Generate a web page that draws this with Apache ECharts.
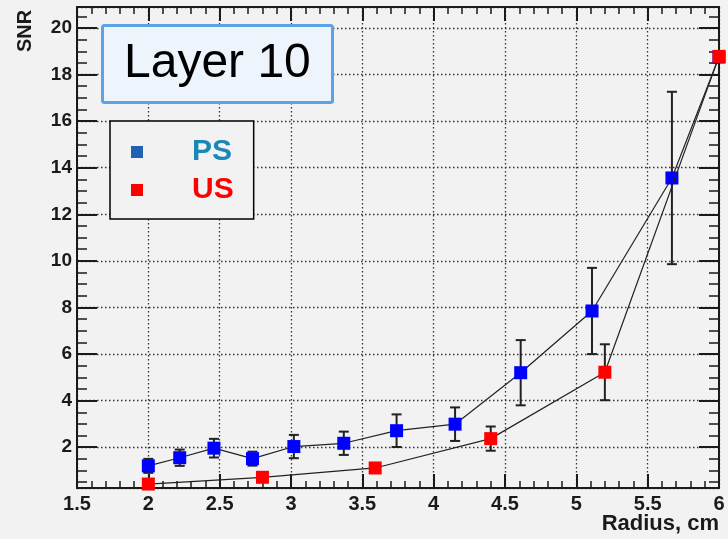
<!DOCTYPE html>
<html>
<head>
<meta charset="utf-8">
<script src="https://cdn.jsdelivr.net/npm/echarts@6/dist/echarts.min.js"></script>
<style>
html, body { margin: 0; padding: 0; background: #f2f2f2; }
#chart { width: 728px; height: 539px; }
</style>
</head>
<body>
<div id="chart"></div>
<script>
// PS points (last one sits under the red US point)
const psX = [2.0, 2.22, 2.46, 2.73, 3.02, 3.37, 3.74, 4.15, 4.61, 5.11, 5.67, 6.0]
const psY = [1.2, 1.55, 1.96, 1.51, 2.03, 2.17, 2.71, 2.99, 5.2, 7.85, 13.56, 18.75]
const psErr = [0.3, 0.35, 0.4, 0.3, 0.5, 0.5, 0.7, 0.72, 1.4, 1.85, 3.7, 0]

const usX = [2.0, 2.8, 3.59, 4.4, 5.2, 6.0]
const usY = [0.42, 0.71, 1.11, 2.37, 5.22, 18.78]
const usErr = [0, 0, 0, 0.52, 1.2, 0]

const xRange = [1.5, 6]
const yRange = [0.25, 20.9]

const FONT = '"Liberation Sans", Arial, sans-serif'
const INK = '#1a1a1a'

const chart = echarts.init(document.getElementById('chart'))

const pairs = (xs, ys) => xs.map((x, i) => [x, ys[i]])
const errBars = (xs, ys, es) => xs.map((x, i) => [x, ys[i] - es[i], ys[i] + es[i]])

const renderErr = (params, api) => {
  const x = api.value(0)
  const lo = api.value(1)
  const hi = api.value(2)
  if (hi - lo <= 0) return null
  const top = api.coord([x, hi])
  const bot = api.coord([x, lo])
  const cap = 5
  const style = { stroke: '#222', lineWidth: 2 }
  return {
    type: 'group',
    children: [
      { type: 'line', shape: { x1: top[0], y1: top[1], x2: bot[0], y2: bot[1] }, style },
      { type: 'line', shape: { x1: top[0] - cap, y1: top[1], x2: top[0] + cap, y2: top[1] }, style },
      { type: 'line', shape: { x1: bot[0] - cap, y1: bot[1], x2: bot[0] + cap, y2: bot[1] }, style }
    ]
  }
}

const xCommon = {
  type: 'value',
  min: xRange[0],
  max: xRange[1],
  interval: 0.5,
  axisLine: { show: true, onZero: false, lineStyle: { color: INK, width: 2 } },
  axisTick: { show: true, inside: true, length: 14, lineStyle: { color: INK, width: 2 } },
  minorTick: { show: true, splitNumber: 5, length: 7, lineStyle: { color: INK, width: 1.5 } }
}

const yCommon = {
  type: 'value',
  min: yRange[0],
  max: yRange[1],
  splitNumber: 10,
  minInterval: 2,
  maxInterval: 2,
  axisLine: { show: true, onZero: false, lineStyle: { color: INK, width: 2 } },
  axisTick: { show: true, inside: true, length: 20, lineStyle: { color: INK, width: 2 } },
  minorTick: { show: true, splitNumber: 4, length: 10, lineStyle: { color: INK, width: 1.5 } }
}

const dotted = { show: true, lineStyle: { color: '#333', width: 1.3, type: [1.5, 2.5] } }

chart.setOption({
  backgroundColor: '#f2f2f2',
  animation: false,
  textStyle: { fontFamily: FONT },
  title: {
    text: 'Layer 10',
    left: 102,
    top: 25,
    padding: [14, 22, 14, 22],
    backgroundColor: '#eef4fc',
    borderColor: '#5ba3e8',
    borderWidth: 3,
    borderRadius: 2,
    textStyle: { fontSize: 48, fontWeight: 'normal', color: '#000', fontFamily: FONT, lineHeight: 50 }
  },
  // y axis title, rotated like the original
  graphic: [
    {
      type: 'text',
      x: 25,
      y: 31,
      rotation: Math.PI / 2,
      style: { text: 'SNR', fontSize: 20, fontWeight: 'bold', fill: INK, fontFamily: FONT, align: 'center', verticalAlign: 'middle' }
    }
  ],
  legend: {
    orient: 'vertical',
    left: 110,
    top: 121,
    padding: [16, 20, 14, 21],
    itemWidth: 12,
    itemHeight: 12,
    itemGap: 8,
    icon: 'rect',
    borderColor: '#000',
    borderWidth: 1.5,
    backgroundColor: '#f2f2f2',
    lineStyle: { opacity: 0 },
    textStyle: { fontSize: 30, fontWeight: 'bold', fontFamily: FONT, lineHeight: 30, padding: [0, 0, 0, 44] },
    data: [
      { name: 'PS', itemStyle: { color: '#1f62b3' }, textStyle: { color: '#1a87b7' } },
      { name: 'US', itemStyle: { color: '#ff0000' }, textStyle: { color: '#ff0000' } }
    ]
  },
  grid: { left: 77, right: 9, top: 7, bottom: 51, containLabel: false, outerBoundsMode: 'none' },
  xAxis: [
    {
      ...xCommon,
      position: 'bottom',
      name: 'Radius, cm',
      nameLocation: 'end',
      nameGap: 0,
      nameMoveOverlap: false,
      nameTextStyle: { fontSize: 22, fontWeight: 'bold', color: INK, align: 'right', verticalAlign: 'top', padding: [25, 0, 0, 0] },
      axisLabel: { fontSize: 20, fontWeight: 'bold', color: INK, margin: 6, fontFamily: FONT },
      splitLine: dotted
    },
    {
      ...xCommon,
      position: 'top',
      axisLabel: { show: false },
      splitLine: { show: false }
    }
  ],
  yAxis: [
    {
      ...yCommon,
      position: 'left',
      axisLabel: { fontSize: 19, fontWeight: 'bold', color: INK, margin: 5, fontFamily: FONT, showMinLabel: false, showMaxLabel: false },
      splitLine: dotted
    },
    {
      ...yCommon,
      position: 'right',
      axisLabel: { show: false },
      splitLine: { show: false }
    }
  ],
  series: [
    {
      name: 'PS-err',
      type: 'custom',
      z: 1,
      clip: false,
      renderItem: renderErr,
      encode: { x: 0, y: [1, 2] },
      data: errBars(psX, psY, psErr)
    },
    {
      name: 'US-err',
      type: 'custom',
      z: 1,
      clip: false,
      renderItem: renderErr,
      encode: { x: 0, y: [1, 2] },
      data: errBars(usX, usY, usErr)
    },
    {
      name: 'PS',
      type: 'line',
      z: 3,
      clip: false,
      symbol: 'rect',
      symbolSize: 13,
      itemStyle: { color: '#0000ff' },
      lineStyle: { color: '#222', width: 1.2 },
      data: pairs(psX, psY)
    },
    {
      name: 'US',
      type: 'line',
      z: 4,
      clip: false,
      symbol: 'rect',
      symbolSize: 13,
      itemStyle: { color: '#ff0000' },
      lineStyle: { color: '#222', width: 1.2 },
      data: pairs(usX, usY)
    }
  ]
})
</script>
</body>
</html>
